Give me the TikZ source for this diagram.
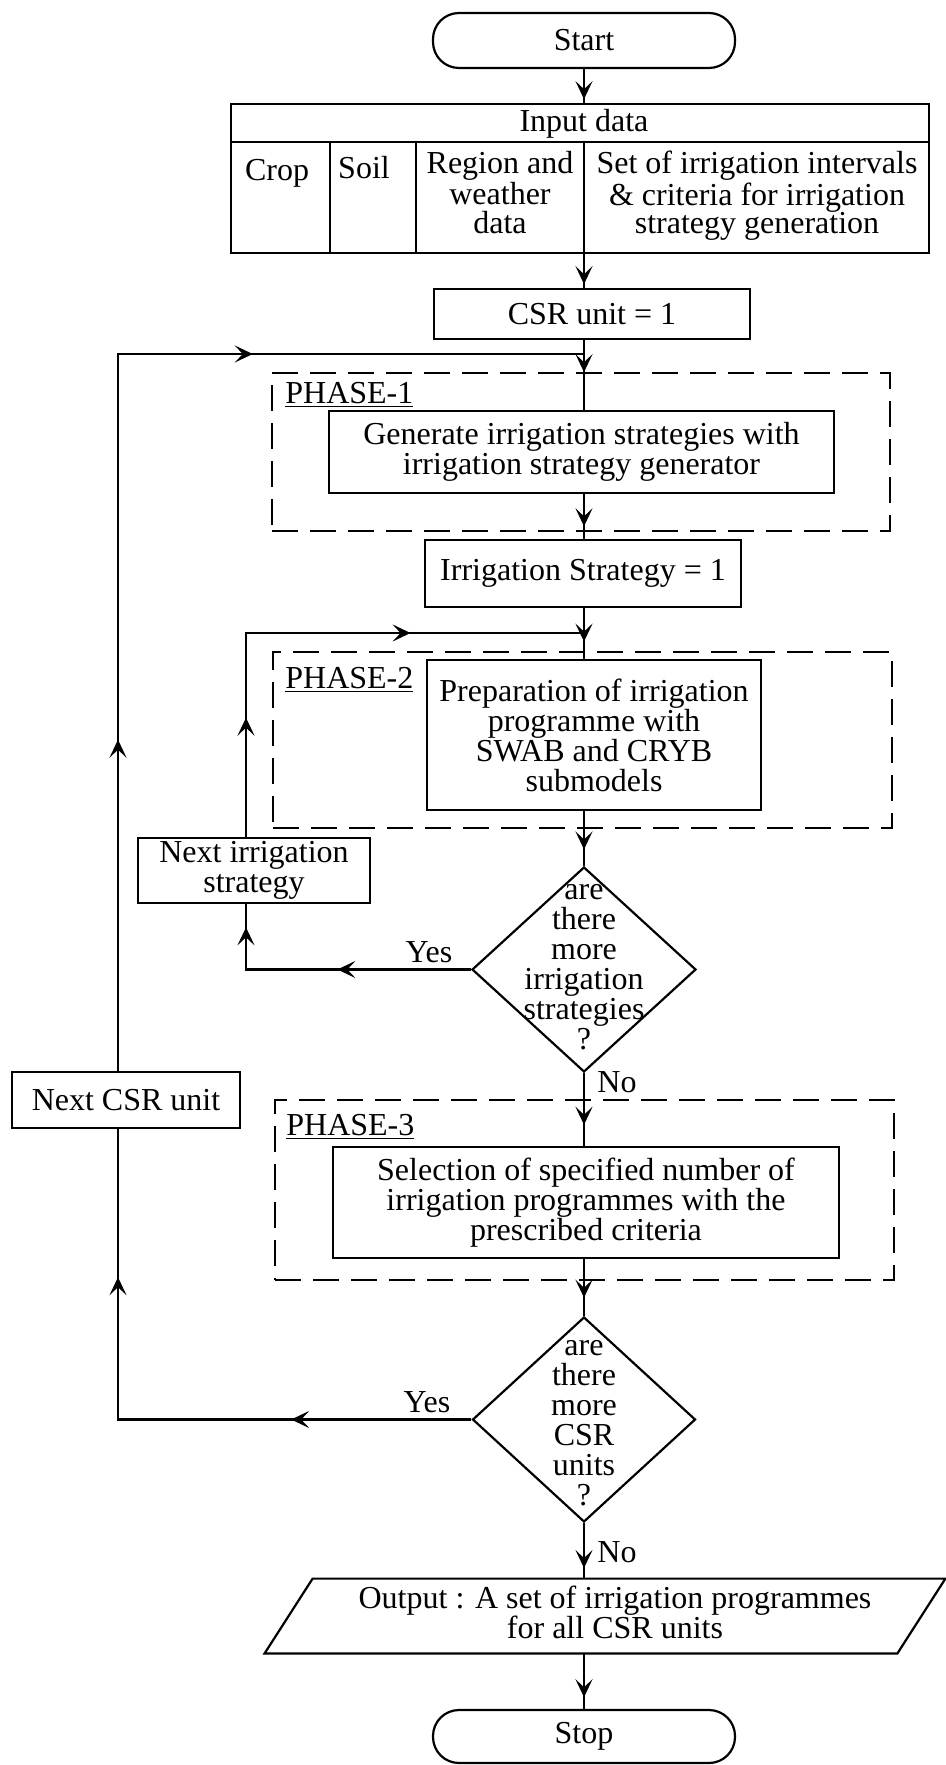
\documentclass[tikz,border=0pt]{standalone}
\usepackage{fontspec}
\setmainfont{Liberation Serif}
\usetikzlibrary{shapes.geometric,arrows.meta,decorations.markings}
\tikzset{
  flowtip/.tip={Stealth[length=9pt,width=8.5pt,inset=4pt]},
  box/.style={draw, line width=1.1pt, inner sep=0pt, align=center},
  term/.style={box, rounded corners=13pt},
  phase/.style={draw, line width=1.1pt, dash pattern=on 13pt off 6pt, inner sep=0pt},
  phaselabel/.style={anchor=west, inner sep=0pt},
  decision/.style={draw, line width=1.1pt, diamond, inner sep=0pt},
  conn/.style={line width=1.1pt},
  arrowat/.style={postaction={decorate, decoration={markings, mark=at position #1 with {\arrow{flowtip}}}}},
  txt/.style={inner sep=0pt, align=center},
  tabtxt/.style={txt, font=\fontsize{16}{14.3}\selectfont},
}
\begin{document}
\begin{tikzpicture}[x=0.5pt,y=-0.5pt, font=\fontsize{16}{15}\selectfont]
\useasboundingbox (0,0) rectangle (946,1765);
\coordinate (ax) at (584,0);
\coordinate (il) at (246,0);
\coordinate (ol) at (118,0);
\coordinate (j1) at (584,354);
\coordinate (j2) at (584,633);

% terminals
\node[term, minimum width=151pt, minimum height=27.5pt] (start) at (584,40.5) {Start};
\node[term, minimum width=151pt, minimum height=26.5pt] (stop) at (584,1736.5) {Stop};

% input table
\node[box, minimum width=349pt, minimum height=74.5pt] (input) at (580,178.5) {};
\draw[line width=1.1pt] (231,142) -- (929,142)
  (330,142) -- (330,253) (416,142) -- (416,253) (584,142) -- (584,253);
\node[txt] (inhead) at (584,124) {Input data};
\node[txt, anchor=base] (crop) at (277,181) {Crop};
\node[txt, anchor=base] (soil) at (364,179) {Soil};
\node[tabtxt] (region) at (500,192.5) {Region and\\weather\\data};
\node[tabtxt] (setof) at (757,196) {Set of irrigation intervals\\\& criteria for irrigation\\strategy generation};

\node[box, minimum width=158pt, minimum height=25pt] (csr1) at (592,314) {CSR unit = 1};

% phase 1
\node[phase, minimum width=309pt, minimum height=79pt] (ph1) at (581,452) {};
\node[phaselabel] (ph1l) at (285,395) {\underline{PHASE-1}};
\node[box, minimum width=252.5pt, minimum height=41pt] (gen) at (581.5,452) {Generate irrigation strategies with\\irrigation strategy generator};

\node[box, minimum width=158pt, minimum height=33.5pt] (is1) at (583,573.5) {Irrigation Strategy = 1};

% phase 2
\node[phase, minimum width=309.5pt, minimum height=88pt] (ph2) at (582.5,740) {};
\node[phaselabel] (ph2l) at (285,680) {\underline{PHASE-2}};
\node[box, minimum width=167pt, minimum height=75pt] (prep) at (594,735) {Preparation of irrigation\\programme with\\SWAB and CRYB\\submodels};

\node[box, minimum width=116pt, minimum height=32.5pt] (nis) at (254,870.5) {Next irrigation\\strategy};

\node[decision, minimum width=112pt, minimum height=102.5pt] (d1) at (584,969.5) {};
\node[txt] (d1t) at (584,967) {are\\there\\more\\irrigation\\strategies\\?};

\node[box, minimum width=114pt, minimum height=28pt] (ncsr) at (126,1100) {Next CSR unit};

% phase 3
\node[phase, minimum width=309.5pt, minimum height=90pt] (ph3) at (584.5,1190) {};
\node[phaselabel] (ph3l) at (286,1127) {\underline{PHASE-3}};
\node[box, minimum width=253pt, minimum height=55.5pt] (sel) at (586,1202.5) {Selection of specified number of\\irrigation programmes with the\\prescribed criteria};

\node[decision, minimum width=111.5pt, minimum height=102.5pt] (d2) at (584,1419.5) {};
\node[txt] (d2t) at (584,1423) {are\\there\\more\\CSR\\units\\?};

% output
\node[inner sep=0pt, minimum width=316pt, minimum height=37pt] (out) at (605,1616) {};
\draw[line width=1.1pt] ([xshift=12pt]out.north west) -- ([xshift=12pt]out.north east)
  -- ([xshift=-12pt]out.south east) -- ([xshift=-12pt]out.south west) -- cycle;
\node[txt] (outt) at (615,1612) {Output : A set of irrigation programmes\\for all CSR units};

% labels
\node[txt] (y1) at (429,952) {Yes};
\node[txt] (y2) at (427,1402) {Yes};
\node[txt, anchor=west] (n1) at (597,1082) {No};
\node[txt, anchor=west] (n2) at (597,1552) {No};

% connectors
\draw[conn, arrowat=0.89] (start.south -| ax) -- (input.north -| ax);
\draw[conn, arrowat=0.89] (input.south -| ax) -- (csr1.north -| ax);
\draw[conn, arrowat=0.46] (csr1.south -| ax) -- (gen.north -| ax);
\draw[conn, arrowat=0.72] (gen.south -| ax) -- (is1.north -| ax);
\draw[conn, arrowat=0.66] (is1.south -| ax) -- (prep.north -| ax);
\draw[conn, arrowat=0.70] (prep.south -| ax) -- (d1.north);
\draw[conn, arrowat=0.71] (d1.south) -- (sel.north -| ax);
\draw[conn, arrowat=0.68] (sel.south -| ax) -- (d2.north);
\draw[conn, arrowat=0.81] (d2.south) -- (out.north -| ax);
\draw[conn, arrowat=0.79] (out.south -| ax) -- (stop.north);
\draw[conn, arrowat=0.46, arrowat=0.92] (d1.west) -- (d1.west -| il) -- (nis.south -| il);
\draw[conn, arrowat=0.22, arrowat=0.68] (nis.north -| il) -- (j2 -| il) -- (j2);
\draw[conn, arrowat=0.28, arrowat=0.77] (d2.west) -- (d2.west -| ol) -- (ncsr.south -| ol);
\draw[conn, arrowat=0.28, arrowat=0.72] (ncsr.north -| ol) -- (j1 -| ol) -- (j1);
\end{tikzpicture}
\end{document}
